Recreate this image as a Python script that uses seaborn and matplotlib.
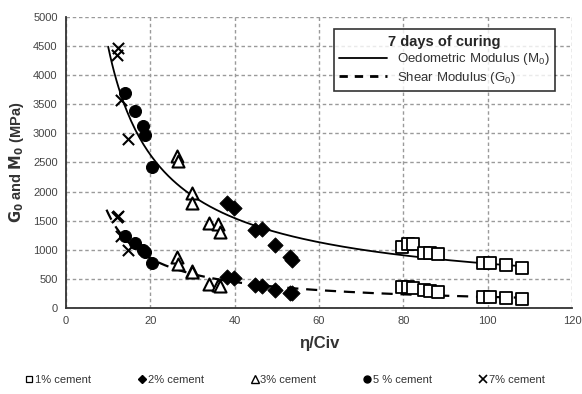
import numpy as np
import pandas as pd
import matplotlib
matplotlib.use("Agg")
import matplotlib.pyplot as plt
from matplotlib.lines import Line2D
import seaborn as sns

# ---- data ----
x_1 = [79.6, 81.0, 82.3, 84.8, 86.4, 88.3, 99.0, 100.6, 104.4, 108.1]
m0_1 = [1055, 1100, 1100, 940, 940, 930, 770, 770, 740, 680]
g0_1 = [367, 355, 338, 310, 292, 280, 195, 195, 167, 150]

x_2 = [38.1, 39.8, 44.9, 46.4, 49.5, 53.2, 53.5]
m0_2 = [1810, 1710, 1340, 1350, 1080, 870, 820]
g0_2 = [530, 520, 390, 380, 310, 260, 250]

x_3 = [26.4, 26.6, 29.8, 30.0, 33.8, 36.0, 36.5]
m0_3 = [2620, 2520, 1970, 1800, 1460, 1450, 1300]
g0_3 = [880, 760, 640, 610, 420, 400, 380]

x_5 = [14.0, 16.4, 18.3, 18.7, 20.5]
m0_5 = [3700, 3390, 3130, 2970, 2430]
g0_5 = [1230, 1110, 1000, 960, 780]

x_7 = [12.4, 12.2, 13.0, 14.8]
m0_7 = [4460, 4350, 3570, 2900]
g0_7 = [1580, 1560, 1240, 1000]

groups = ["1% cement", "2% cement", "3% cement", "5 % cement", "7% cement"]

# power-law trend lines  y = a * x^b
m0_a, m0_b, m0_range = 26437.0, -0.77, (10.0, 108.0)
g0_a, g0_b, g0_range = 13870.0, -0.931, (9.6, 108.0)

x_ticks = [0, 20, 40, 60, 80, 100, 120]
y_ticks = [0, 500, 1000, 1500, 2000, 2500, 3000, 3500, 4000, 4500, 5000]

sns.set_theme(style="white")
plt.rcParams["font.family"] = ["Liberation Sans", "DejaVu Sans"]

fig = plt.figure(figsize=(5.82, 3.94), dpi=100)
ax = fig.add_axes([0.1134, 0.2183, 0.8694, 0.7386])

# trend lines
xm = np.linspace(*m0_range, 200)
xg = np.linspace(*g0_range, 200)
sns.lineplot(x=xm, y=m0_a * xm ** m0_b, ax=ax, color="black", lw=1.3, zorder=3)
sns.lineplot(x=xg, y=g0_a * xg ** g0_b, ax=ax, color="black", lw=1.6,
             linestyle=(0, (5, 3.5)), zorder=3)

data = [(x_1, m0_1, g0_1), (x_2, m0_2, g0_2), (x_3, m0_3, g0_3),
        (x_5, m0_5, g0_5), (x_7, m0_7, g0_7)]
styles = [
    dict(marker="s", s=65, facecolor="white", edgecolor="black", linewidth=1.3),
    dict(marker="D", s=60, color="black", edgecolor="black"),
    dict(marker="^", s=75, facecolor="white", edgecolor="black", linewidth=1.5),
    dict(marker="o", s=75, color="black", edgecolor="black"),
    dict(marker="x", s=65, color="black", linewidth=1.5),
]
for (xs, ms, gs), st in zip(data, styles):
    df = pd.DataFrame({"x": xs + xs, "y": ms + gs})
    sns.scatterplot(data=df, x="x", y="y", ax=ax, zorder=4, legend=False, **st)

ax.set_xlim(0, 120)
ax.set_ylim(0, 5000)
ax.set_xticks(x_ticks)
ax.set_yticks(y_ticks)
ax.tick_params(axis="both", labelsize=8, labelcolor="#444444", colors="#333333",
               direction="inout", length=5, width=1)
ax.tick_params(axis="both", labelcolor="#444444")
for s in ["top", "right"]:
    ax.spines[s].set_visible(False)
for s in ["left", "bottom"]:
    ax.spines[s].set_color("#333333")
    ax.spines[s].set_linewidth(1.3)
ax.grid(True, color="#9a9a9a", linestyle=(0, (2.5, 2)), linewidth=1.0)
ax.set_axisbelow(True)

ax.set_xlabel("η/Civ", fontsize=12, fontweight="bold", color="#333333", labelpad=7)
ax.set_ylabel(r"$\mathbf{G_0}$ and $\mathbf{M_0}$ (MPa)", fontsize=10.5,
              fontweight="bold", color="#333333", labelpad=5)

# trend legend
h_lines = [Line2D([], [], color="black", lw=1.3),
           Line2D([], [], color="black", lw=2, linestyle=(0, (3, 2.5)))]
leg = ax.legend(h_lines, [r"Oedometric Modulus (M$_\mathregular{0}$)",
                          r"Shear Modulus (G$_\mathregular{0}$)"],
                title="7 days of curing", loc="upper right",
                bbox_to_anchor=(0.98, 0.98), fontsize=9.5, title_fontsize=10.5,
                frameon=True, fancybox=False, edgecolor="black",
                borderpad=0.4, labelspacing=0.2, handlelength=3.6,
                handletextpad=0.8)
leg.get_title().set_fontweight("bold")
leg.get_frame().set_linewidth(1.2)
for t in leg.get_texts():
    t.set_color("#333333")

# marker legend at the bottom
h_marks = [
    Line2D([], [], marker="s", ls="", ms=5, mfc="white", mec="black", mew=0.9),
    Line2D([], [], marker="D", ls="", ms=4, color="black"),
    Line2D([], [], marker="^", ls="", ms=6, mfc="white", mec="black", mew=1.0),
    Line2D([], [], marker="o", ls="", ms=5, color="black"),
    Line2D([], [], marker="x", ls="", ms=6, color="black", mew=1.2),
]
fl = fig.legend(h_marks, groups, loc="center", bbox_to_anchor=(0.49, 0.035),
                ncol=5, frameon=False, fontsize=8, handlelength=0.6,
                handletextpad=0.2, columnspacing=4.3)
for t in fl.get_texts():
    t.set_color("#333333")

fig.savefig("out.png", dpi=100)
